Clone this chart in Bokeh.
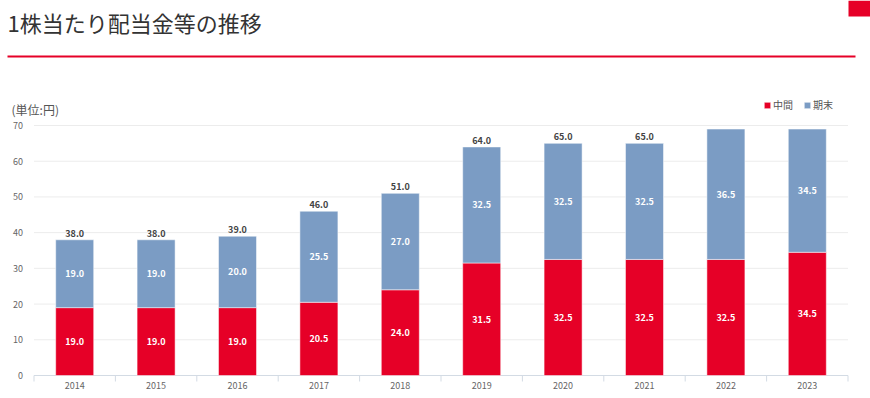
from bokeh.plotting import figure
from bokeh.models import (ColumnDataSource, Range1d, Label, BoxAnnotation, Legend)
from bokeh.core.properties import value
from bokeh.embed import file_html
from bokeh.resources import INLINE

years = ["2014", "2015", "2016", "2017", "2018", "2019", "2020", "2021", "2022", "2023"]
interim = [19.0, 19.0, 19.0, 20.5, 24.0, 31.5, 32.5, 32.5, 32.5, 34.5]
final = [19.0, 19.0, 20.0, 25.5, 27.0, 32.5, 32.5, 32.5, 36.5, 34.5]
series_names = ["中間", "期末"]
y_ticks = [0, 10, 20, 30, 40, 50, 60, 70]

RED = "#E60027"
BLUE = "#7B9CC4"
GRID = "#ececec"
AXIS = "#d3dbe4"
FONT = "Noto Sans CJK JP"

n = len(years)
xs = [i + 0.5 for i in range(n)]
totals = [a + b for a, b in zip(interim, final)]

src = ColumnDataSource(dict(
    x=xs, interim=interim, final=final,
    interim_mid=[a / 2 for a in interim],
    final_mid=[a + b / 2 for a, b in zip(interim, final)],
    interim_lbl=[f"{v:.1f}" for v in interim],
    final_lbl=[f"{v:.1f}" for v in final],
))
shown = [i for i in range(n) if totals[i] < 69]
tot_src = ColumnDataSource(dict(
    x=[xs[i] for i in shown], y=[totals[i] for i in shown],
    lbl=[f"{totals[i]:.1f}" for i in shown],
))

# layout geometry (pixels)
W, H = 870, 398
AXIS_Y = 375            # pixel row of the zero line
PLOT_LEFT = 33.5        # pixel where the category bands start
BAND = 81.4             # pixel width of one category band
PX_PER_UNIT = 250 / 70  # 0..70 spans 250 px

x_start = -PLOT_LEFT / BAND
x_end = (W - PLOT_LEFT) / BAND
y_start = -(H - AXIS_Y) / PX_PER_UNIT
y_end = AXIS_Y / PX_PER_UNIT
tick_len = 6 / PX_PER_UNIT

p = figure(width=W, height=H, output_backend="svg", toolbar_location=None,
           x_range=Range1d(x_start, x_end), y_range=Range1d(y_start, y_end),
           min_border_left=0, min_border_right=0, min_border_top=0, min_border_bottom=0)
p.outline_line_color = None
p.background_fill_color = "white"
p.border_fill_color = "white"
p.xgrid.grid_line_color = None
p.ygrid.grid_line_color = None
p.xaxis.visible = False
p.yaxis.visible = False

# gridlines across the band area only
p.segment(x0=[0] * len(y_ticks), x1=[n] * len(y_ticks), y0=y_ticks, y1=y_ticks,
          line_color=GRID, line_width=1)
# x axis line and boundary ticks
p.segment(x0=[0], x1=[n], y0=[0], y1=[0], line_color=AXIS, line_width=1)
bounds = list(range(n + 1))
p.segment(x0=bounds, x1=bounds, y0=[0] * len(bounds), y1=[-tick_len] * len(bounds),
          line_color=AXIS, line_width=1)

r = p.vbar_stack(["interim", "final"], x="x", width=0.467, color=[RED, BLUE],
                 line_color="white", line_width=0.5, source=src)

p.text(x="x", y="interim_mid", text="interim_lbl", source=src, text_color="white",
       text_font=value(FONT), text_font_size="9px", text_font_style="bold",
       text_align="center", text_baseline="middle")
p.text(x="x", y="final_mid", text="final_lbl", source=src, text_color="white",
       text_font=value(FONT), text_font_size="9px", text_font_style="bold",
       text_align="center", text_baseline="middle")
p.text(x="x", y="y", text="lbl", source=tot_src, text_color="#444444",
       text_font=value(FONT), text_font_size="9px", text_font_style="bold",
       text_align="center", text_baseline="bottom", y_offset=-3)

# y tick labels
p.text(x=[x_start] * len(y_ticks), y=y_ticks, text=[str(t) for t in y_ticks],
       x_offset=22.5, text_align="right", text_baseline="middle",
       text_color="#666666", text_font=value(FONT), text_font_size="9px")
# x tick labels
p.text(x=xs, y=[0] * n, text=years, y_offset=10, text_align="center",
       text_baseline="middle", text_color="#666666", text_font=value(FONT),
       text_font_size="9px")

# legend above the bars
legend = Legend(items=[(series_names[0], [r[0]]), (series_names[1], [r[1]])],
                location=(763, H - 112), orientation="horizontal",
                label_text_font=FONT, label_text_font_size="10px", label_text_color="#555555",
                glyph_width=8, glyph_height=8, label_standoff=2, spacing=10,
                padding=0, margin=0, border_line_color=None, background_fill_alpha=0,
                label_height=10)
p.add_layout(legend, "center")

# title and decorations (screen units: from frame bottom-left, y up)
p.add_layout(Label(x=7, y=H - 21.5, x_units="screen", y_units="screen",
                   text="1株当たり配当金等の推移", text_font=FONT, text_font_size="22px",
                   text_color="#333333", text_baseline="middle"))
p.add_layout(Label(x=11, y=H - 108.5, x_units="screen", y_units="screen",
                   text="(単位:円)", text_font=FONT, text_font_size="12px",
                   text_color="#555555", text_baseline="middle"))
p.add_layout(BoxAnnotation(left=7, right=855, top=H - 55, bottom=H - 57,
                           left_units="screen", right_units="screen",
                           top_units="screen", bottom_units="screen",
                           fill_color=RED, fill_alpha=1, line_color=None))
p.add_layout(BoxAnnotation(left=848, right=W, top=H, bottom=H - 16,
                           left_units="screen", right_units="screen",
                           top_units="screen", bottom_units="screen",
                           fill_color=RED, fill_alpha=1, line_color=None))

open("out.html", "w").write(file_html(p, INLINE))
